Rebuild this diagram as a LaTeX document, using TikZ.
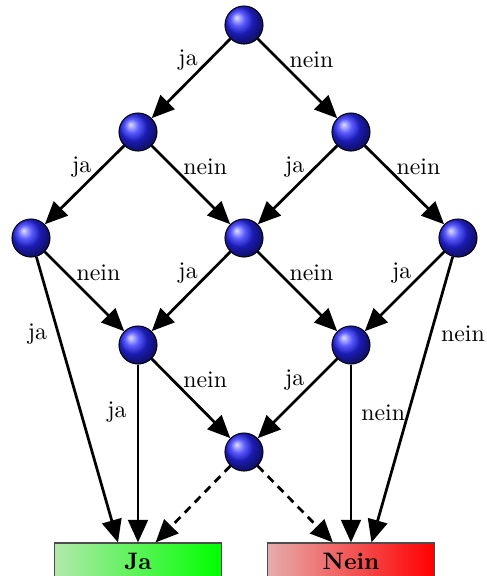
\documentclass[tikz,border=0pt]{standalone}
\usetikzlibrary{arrows.meta,shadings}
\definecolor{jaleft}{RGB}{178,232,172}
\definecolor{jaright}{RGB}{0,255,0}
\definecolor{neinleft}{RGB}{230,172,172}
\definecolor{neinright}{RGB}{255,0,0}
\begin{document}
\begin{tikzpicture}[x=0.42pt,y=-0.42pt,
  ball/.style={circle,minimum size=16pt,inner sep=0pt,shading=ball,ball color=blue!85!white,draw=black,line width=0.4pt},
  arr/.style={line width=1.15pt,-{Triangle[length=9.5pt,width=8.3pt]}},
  dsh/.style={arr,dash pattern=on 3.4pt off 2.6pt},
  jl/.style={pos=0.27,anchor=east,inner sep=0pt,xshift=-4.2pt},
  nl/.style={pos=0.27,anchor=west,inner sep=0pt,xshift=3.8pt},
  res/.style={minimum width=70.1pt,minimum height=15.1pt,inner sep=0pt,draw=black!70,line width=0.5pt,font=\bfseries}]
\useasboundingbox (0,0) rectangle (487,576);
\node[ball] (a) at (244,25) {};
\node[ball] (b1) at (138,132) {};
\node[ball] (b2) at (351,132) {};
\node[ball] (c1) at (31,238) {};
\node[ball] (c2) at (244,238) {};
\node[ball] (c3) at (458,238) {};
\node[ball] (d1) at (138,345) {};
\node[ball] (d2) at (351,345) {};
\node[ball] (e) at (244,452) {};
\node[res,left color=jaleft,right color=jaright] (ja) at (138,561) {Ja};
\node[res,left color=neinleft,right color=neinright] (nein) at (351,561) {Nein};
\coordinate (ja1) at ([xshift=-8.4pt]ja.north);
\coordinate (ja2) at (ja.north);
\coordinate (ja3) at ([xshift=7.4pt]ja.north);
\coordinate (ne1) at ([xshift=-7.6pt]nein.north);
\coordinate (ne2) at (nein.north);
\coordinate (ne3) at ([xshift=8.6pt]nein.north);
\draw[arr] (a) -- node[jl]{ja} (b1);
\draw[arr] (a) -- node[nl]{nein} (b2);
\draw[arr] (b1) -- node[jl]{ja} (c1);
\draw[arr] (b1) -- node[nl]{nein} (c2);
\draw[arr] (b2) -- node[jl]{ja} (c2);
\draw[arr] (b2) -- node[nl]{nein} (c3);
\draw[arr] (c1) -- node[nl]{nein} (d1);
\draw[arr] (c2) -- node[jl]{ja} (d1);
\draw[arr] (c2) -- node[nl]{nein} (d2);
\draw[arr] (c3) -- node[jl]{ja} (d2);
\draw[arr] (d1) -- node[nl]{nein} (e);
\draw[arr] (d2) -- node[jl]{ja} (e);
\draw[arr] (c1) -- node[jl]{ja} (ja1);
\draw[arr] (d1) -- node[jl]{ja} (ja2);
\draw[dsh] (e) -- (ja3);
\draw[dsh] (e) -- (ne1);
\draw[arr] (d2) -- node[nl]{nein} (ne2);
\draw[arr] (c3) -- node[nl]{nein} (ne3);
\end{tikzpicture}
\end{document}
